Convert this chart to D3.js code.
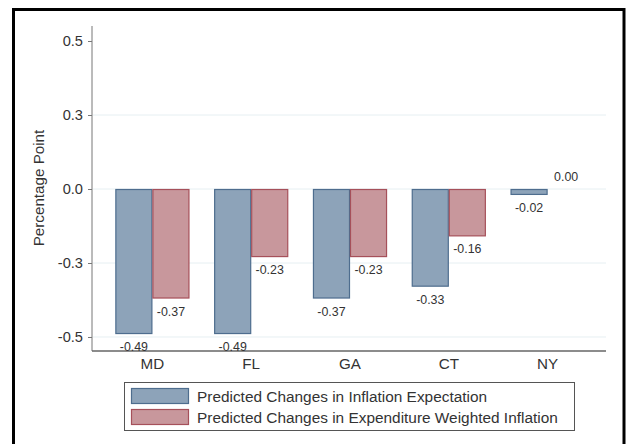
<!DOCTYPE html>
<html>
<head>
<meta charset="utf-8">
<script src="https://cdn.jsdelivr.net/npm/d3@7"></script>
<style>
html,body{margin:0;padding:0;background:#fff;}
svg{display:block;font-family:"Liberation Sans",Arial,sans-serif;}
</style>
</head>
<body>
<svg id="chart" width="626" height="444"></svg>
<script>
const categories = ["MD", "FL", "GA", "CT", "NY"];
const expectation = [-0.49, -0.49, -0.37, -0.33, -0.02];
const expenditure = [-0.37, -0.23, -0.23, -0.16, 0.00];
const seriesNames = ["Predicted Changes in Inflation Expectation", "Predicted Changes in Expenditure Weighted Inflation"];
const yTicks = [-0.5, -0.25, 0, 0.25, 0.5];

(function () {
const fills = ["#8da3b9", "#c8979c"];
const strokes = ["#4e6d8e", "#a6505a"];
const txt = "#333";
const ff = '"Liberation Sans",Arial,sans-serif';

const svg = d3.select("#chart");
const pLeft = 92, pRight = 606, pTop = 26, pBottom = 351;

const y = d3.scaleLinear().domain([-0.5473, 0.5507]).range([pBottom, pTop]);
const x0 = d3.scaleBand().domain(categories).range([103, 597]).paddingInner(0.25).paddingOuter(0.125);
const x1 = d3.scaleBand().domain([0, 1]).range([0, x0.bandwidth()]);

// frame
svg.append("path")
  .attr("d", `M13.5,450 L13.5,9.5 L624,9.5 L624,450`)
  .attr("fill", "none").attr("stroke", "#000").attr("stroke-width", 3);

// gridlines
svg.append("g").selectAll("line")
  .data(yTicks.filter(t => t < 0.5))
  .join("line")
  .attr("x1", pLeft + 1).attr("x2", pRight)
  .attr("y1", d => y(d)).attr("y2", d => y(d))
  .attr("stroke", "#e6eff2").attr("stroke-width", 1);

// y axis
const yAxis = d3.axisLeft(y).tickValues(yTicks).tickSize(4).tickPadding(5)
  .tickFormat(d => d3.format(".1f")(d).replace("−", "-"));
const gy = svg.append("g").attr("transform", `translate(${pLeft},0)`).call(yAxis);
gy.select(".domain").attr("stroke", "#777").attr("d", `M0,${pTop}V${pBottom}`);
gy.selectAll(".tick line").attr("stroke", "#777");
gy.selectAll(".tick text").attr("fill", txt).style("font-size", "14.6px").style("font-family", ff);

// x axis
const xAxis = d3.axisBottom(x0).tickSize(0).tickPadding(7);
const gx = svg.append("g").attr("transform", `translate(0,${pBottom})`).call(xAxis);
gx.select(".domain").attr("stroke", "#666").attr("stroke-width", 1.3).attr("d", `M${pLeft},0H${pRight}`);
gx.selectAll(".tick text").attr("fill", txt).style("font-size", "15.2px").style("font-family", ff);

// y label
svg.append("text")
  .attr("transform", `translate(44,188) rotate(-90)`)
  .attr("text-anchor", "middle").attr("fill", txt).style("font-size", "15.2px")
  .text("Percentage Point");

// bars
const series = [expectation, expenditure];
series.forEach((vals, si) => {
  const g = svg.append("g");
  g.selectAll("rect").data(vals).join("rect")
    .attr("x", (d, i) => x0(categories[i]) + x1(si) + 0.5)
    .attr("width", x1.bandwidth() - 1)
    .attr("y", d => Math.min(y(d), y(0)) + 0.5)
    .attr("height", d => Math.max(0, Math.abs(y(d) - y(0)) - 1))
    .attr("fill", fills[si]).attr("stroke", strokes[si]).attr("stroke-width", 1.2);
  g.selectAll("text").data(vals).join("text")
    .attr("x", (d, i) => x0(categories[i]) + x1(si) + x1.bandwidth() / 2)
    .attr("y", d => d < 0 ? y(d) + 17 : y(d) - 8.5)
    .attr("text-anchor", "middle").attr("fill", txt).style("font-size", "12.4px")
    .text(d => d3.format(".2f")(d).replace("−", "-"));
});

// legend
const lg = svg.append("g");
lg.append("rect").attr("x", 124.5).attr("y", 382.5).attr("width", 450).attr("height", 48)
  .attr("fill", "#fff").attr("stroke", "#555").attr("stroke-width", 1);
seriesNames.forEach((name, i) => {
  lg.append("rect").attr("x", 131.5).attr("y", 388.5 + i * 21).attr("width", 57).attr("height", 15)
    .attr("fill", fills[i]).attr("stroke", strokes[i]).attr("stroke-width", 1.2);
  lg.append("text").attr("x", 197).attr("y", 401.5 + i * 21)
    .attr("fill", txt).style("font-size", "15.4px").text(name);
});
})();
</script>
</body>
</html>
